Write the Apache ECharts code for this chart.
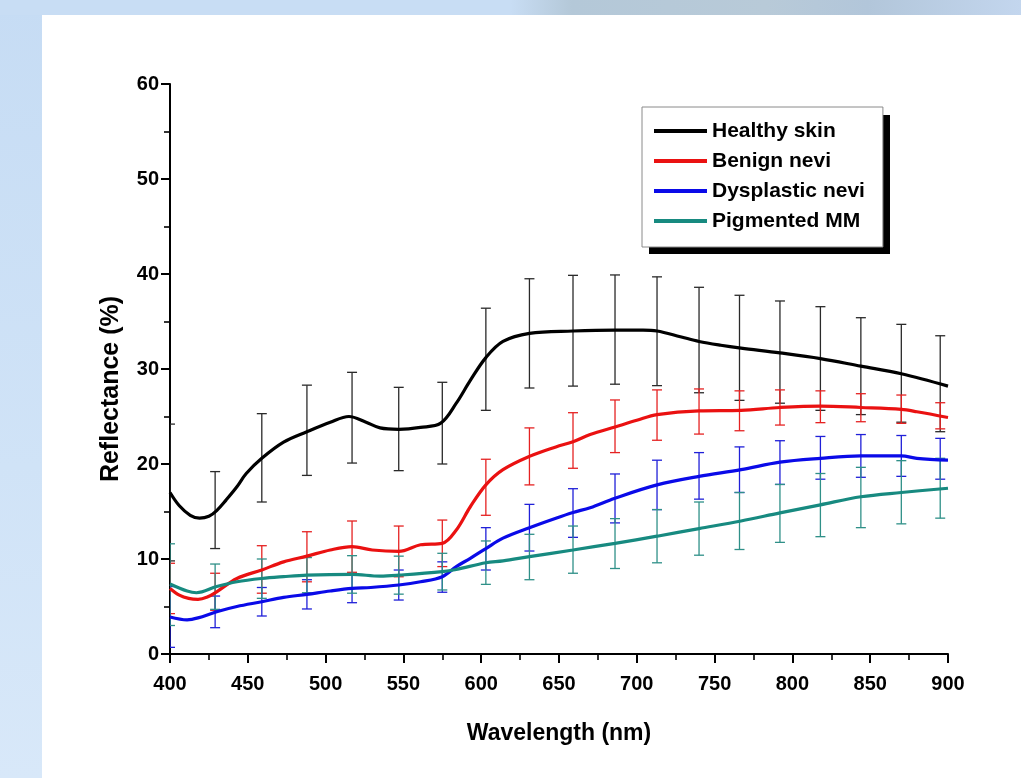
<!DOCTYPE html>
<html>
<head>
<meta charset="utf-8">
<script src="https://cdn.jsdelivr.net/npm/echarts@6/dist/echarts.min.js"></script>
<style>
  html, body { margin: 0; padding: 0; }
  body { width: 1021px; height: 778px; overflow: hidden; position: relative;
         background: linear-gradient(to bottom, #c6dcf4 0%, #d0e3f7 60%, #d8e8f9 100%); }
  #topband { position: absolute; left: 0; top: 0; width: 1021px; height: 15px;
         background: linear-gradient(to right, #c8ddf4 0%, #c8ddf4 50%, #b4c8d8 56%, #b8cad8 75%, #b2c6da 85%, #c3d6ee 100%); }
  #panel { position: absolute; left: 42px; top: 15px; right: 0; bottom: 0; background: #ffffff; }
  #chart { position: absolute; left: 0; top: 0; width: 1021px; height: 778px; }
</style>
</head>
<body>
<div id="topband"></div>
<div id="panel"></div>
<div id="chart"></div>
<script>
// ---------- data ----------
const seriesNames = ['Healthy skin', 'Benign nevi', 'Dysplastic nevi', 'Pigmented MM'];

const healthyWl  = [400, 406, 413, 419, 425, 430, 436, 443, 449, 459, 473, 488, 503, 515, 526, 535, 547, 561, 574, 584, 593, 603, 614, 631, 659, 686, 704, 713, 728, 740, 754, 767, 792, 818, 844, 870, 900];
const healthyVal = [17.0, 15.6, 14.6, 14.3, 14.5, 15.1, 16.2, 17.6, 19.0, 20.6, 22.3, 23.4, 24.4, 25.0, 24.4, 23.8, 23.65, 23.85, 24.3, 26.4, 28.8, 31.2, 32.9, 33.75, 34.0, 34.1, 34.1, 34.0, 33.4, 32.9, 32.5, 32.2, 31.7, 31.1, 30.3, 29.5, 28.2];

const benignWl  = [400, 406, 412, 418, 424, 430, 443, 459, 473, 488, 503, 517, 530, 547, 561, 575, 584, 593, 603, 614, 631, 648, 659, 670, 686, 700, 713, 740, 767, 792, 818, 844, 870, 880, 900];
const benignVal = [6.9, 6.2, 5.85, 5.75, 6.0, 6.55, 7.95, 8.85, 9.7, 10.3, 10.95, 11.3, 10.95, 10.8, 11.5, 11.65, 13.05, 15.5, 17.8, 19.4, 20.8, 21.8, 22.35, 23.1, 23.9, 24.6, 25.2, 25.6, 25.65, 25.95, 26.1, 25.95, 25.75, 25.5, 24.9];

const dysplWl  = [400, 411, 418, 430, 443, 459, 473, 488, 503, 517, 529, 547, 561, 575, 584, 593, 603, 614, 631, 648, 659, 670, 686, 713, 740, 767, 792, 818, 844, 870, 880, 900];
const dysplVal = [3.9, 3.6, 3.8, 4.45, 5.0, 5.5, 5.96, 6.28, 6.63, 6.9, 7.0, 7.26, 7.6, 8.14, 9.2, 10.07, 11.1, 12.2, 13.3, 14.3, 14.9, 15.4, 16.4, 17.8, 18.7, 19.4, 20.2, 20.6, 20.85, 20.85, 20.6, 20.4];

const mmWl  = [400, 411, 417, 430, 443, 459, 473, 488, 517, 535, 547, 575, 584, 603, 614, 631, 659, 686, 713, 740, 767, 792, 818, 844, 870, 900];
const mmVal = [7.37, 6.63, 6.45, 7.1, 7.6, 7.95, 8.14, 8.3, 8.38, 8.2, 8.3, 8.67, 8.9, 9.6, 9.8, 10.25, 10.95, 11.65, 12.4, 13.2, 14.0, 14.85, 15.7, 16.55, 17.0, 17.45];

// error bar positions (nm) and their low / high ends (%)
const barWl = [400, 429, 459, 488, 517, 547, 575, 603, 631, 659, 686, 713, 740, 766, 792, 818, 844, 870, 895];
const healthyLow  = [9.8, 11.1, 16.0, 18.8, 20.1, 19.3, 20.0, 25.65, 28.0, 28.2, 28.4, 28.25, 27.5, 26.7, 26.4, 25.65, 25.2, 24.4, 23.4];
const healthyHigh = [24.2, 19.2, 25.3, 28.3, 29.65, 28.07, 28.6, 36.4, 39.5, 39.86, 39.9, 39.7, 38.6, 37.76, 37.16, 36.56, 35.4, 34.7, 33.5];
const benignLow   = [4.25, 4.6, 6.4, 7.6, 8.6, 8.13, 9.2, 14.6, 17.8, 19.55, 21.2, 22.5, 23.15, 23.5, 24.1, 24.35, 24.45, 24.28, 23.7];
const benignHigh  = [9.55, 8.5, 11.4, 12.87, 14.0, 13.47, 14.1, 20.5, 23.8, 25.4, 26.74, 27.8, 27.9, 27.7, 27.8, 27.7, 27.4, 27.26, 26.45];
const dysplLow    = [0.7, 2.77, 4.0, 4.74, 5.4, 5.68, 6.5, 8.84, 10.84, 12.28, 13.8, 15.2, 16.3, 17.0, 17.85, 18.4, 18.6, 18.7, 18.4];
const dysplHigh   = [7.1, 6.1, 7.0, 7.82, 8.4, 8.84, 9.7, 13.3, 15.75, 17.4, 18.95, 20.4, 21.2, 21.8, 22.45, 22.9, 23.1, 23.0, 22.7];
const mmLow       = [3.0, 4.7, 5.86, 6.45, 6.4, 6.3, 6.74, 7.33, 7.82, 8.5, 9.0, 9.6, 10.4, 11.0, 11.75, 12.35, 13.3, 13.7, 14.3];
const mmHigh      = [11.6, 9.47, 10.0, 10.15, 10.35, 10.3, 10.6, 11.9, 12.6, 13.47, 14.25, 15.2, 16.0, 17.0, 17.85, 19.0, 19.65, 20.35, 20.6];

const xTicks = [400, 450, 500, 550, 600, 650, 700, 750, 800, 850, 900];
const yTicks = [0, 10, 20, 30, 40, 50, 60];

// ---------- chart ----------
const lineColors = ['#000000', '#ea1111', '#0a0ae8', '#178a80'];
const barColors  = ['#2a2a2a', '#e52222', '#2020d8', '#2f9088'];

const curves = [[healthyWl, healthyVal], [benignWl, benignVal], [dysplWl, dysplVal], [mmWl, mmVal]];
const bars = [[healthyLow, healthyHigh], [benignLow, benignHigh], [dysplLow, dysplHigh], [mmLow, mmHigh]];

function pairs(xs, ys) { return xs.map((x, i) => [x, ys[i]]); }
function triples(xs, lo, hi) { return xs.map((x, i) => [x, lo[i], hi[i]]); }

function errRender(color) {
  return function (params, api) {
    const x = api.value(0), lo = api.value(1), hi = api.value(2);
    const a = api.coord([x, lo]), b = api.coord([x, hi]);
    const w = 5;
    const style = { stroke: color, lineWidth: 1.3 };
    return {
      type: 'group',
      children: [
        { type: 'line', shape: { x1: a[0], y1: a[1], x2: b[0], y2: b[1] }, style: style },
        { type: 'line', shape: { x1: a[0] - w, y1: a[1], x2: a[0] + w, y2: a[1] }, style: style },
        { type: 'line', shape: { x1: b[0] - w, y1: b[1], x2: b[0] + w, y2: b[1] }, style: style }
      ]
    };
  };
}

const series = [];
seriesNames.forEach((name, k) => {
  series.push({
    name: name + ' SD',
    type: 'custom',
    renderItem: errRender(barColors[k]),
    data: triples(barWl, bars[k][0], bars[k][1]),
    encode: { x: 0, y: [1, 2] },
    clip: true,
    z: 2,
    silent: true
  });
});
seriesNames.forEach((name, k) => {
  series.push({
    name: name,
    type: 'line',
    data: pairs(curves[k][0], curves[k][1]),
    smooth: 0.35,
    symbol: 'none',
    showSymbol: false,
    clip: true,
    lineStyle: { color: lineColors[k], width: 3.2 },
    itemStyle: { color: lineColors[k] },
    z: 5
  });
});

const FONT = 'Liberation Sans, Arial, Helvetica, sans-serif';

const chart = echarts.init(document.getElementById('chart'), null, { renderer: 'canvas' });
chart.setOption({
  animation: false,
  backgroundColor: 'transparent',
  grid: { left: 170, right: 73, top: 84, bottom: 124, containLabel: false },
  xAxis: {
    type: 'value',
    min: xTicks[0], max: xTicks[xTicks.length - 1], interval: 50,
    name: 'Wavelength (nm)',
    nameLocation: 'middle',
    nameGap: 68,
    nameTextStyle: { fontFamily: FONT, fontWeight: 'bold', fontSize: 23, color: '#000' },
    axisLine: { show: true, onZero: false, lineStyle: { color: '#000', width: 2 } },
    axisTick: { show: true, length: 9, lineStyle: { color: '#000', width: 2 } },
    minorTick: { show: true, splitNumber: 2, length: 6, lineStyle: { color: '#000', width: 1.6 } },
    axisLabel: { margin: 20, fontFamily: FONT, fontWeight: 'bold', fontSize: 20, color: '#000' },
    splitLine: { show: false }
  },
  yAxis: {
    type: 'value',
    min: yTicks[0], max: yTicks[yTicks.length - 1], interval: 10,
    name: 'Reflectance (%)',
    nameLocation: 'middle',
    nameGap: 46,
    nameTextStyle: { fontFamily: FONT, fontWeight: 'bold', fontSize: 25, color: '#000', padding: [0, 40, 0, 0] },
    axisLine: { show: true, onZero: false, lineStyle: { color: '#000', width: 2 } },
    axisTick: { show: true, length: 9, lineStyle: { color: '#000', width: 2 } },
    minorTick: { show: true, splitNumber: 2, length: 6, lineStyle: { color: '#000', width: 1.6 } },
    axisLabel: { margin: 11, fontFamily: FONT, fontWeight: 'bold', fontSize: 20, color: '#000' },
    splitLine: { show: false }
  },
  legend: {
    data: seriesNames.map((n, k) => ({ name: n, icon: 'rect', itemStyle: { color: lineColors[k] } })),
    orient: 'vertical',
    left: 642, top: 107,
    padding: [13, 18, 15, 12],
    itemWidth: 53, itemHeight: 4, itemGap: 8,
    backgroundColor: '#ffffff',
    borderColor: '#8a8a8a', borderWidth: 1,
    selectedMode: false,
    textStyle: { fontFamily: FONT, fontWeight: 'bold', fontSize: 21, color: '#000', lineHeight: 22 },
    z: 10
  },
  graphic: [
    { type: 'rect', left: 649, top: 115, shape: { width: 241, height: 139 }, style: { fill: '#000' }, z: 1 }
  ],
  series: series
});
</script>
</body>
</html>
